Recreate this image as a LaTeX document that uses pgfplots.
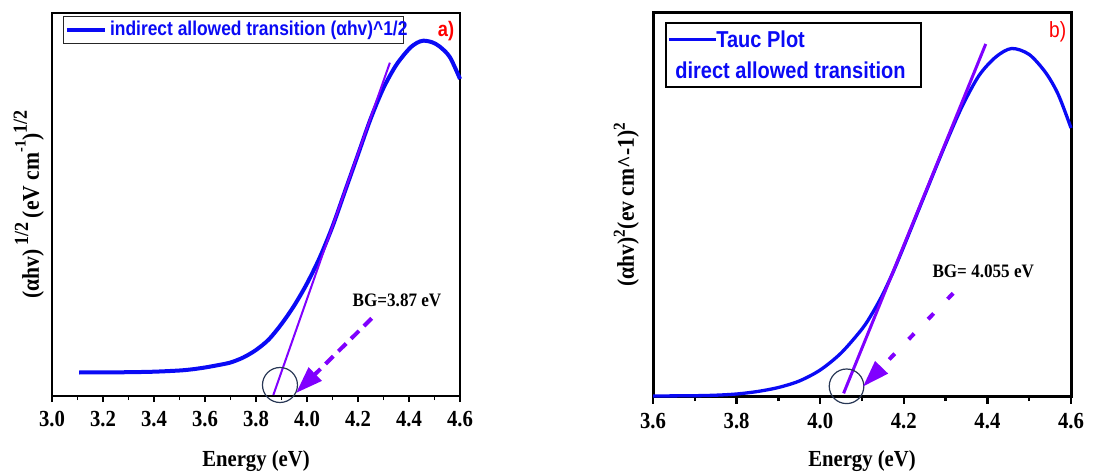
\documentclass[border=0pt]{standalone}
\usepackage{fontspec}
\setmainfont{Liberation Serif}[FakeStretch=0.9]
\newfontfamily\lsans{Liberation Sans}[FakeStretch=0.87]
\usepackage{pgfplots}
\pgfplotsset{compat=1.18}
\usetikzlibrary{arrows.meta}
\definecolor{cblue}{RGB}{10,10,245}
\definecolor{cpurple}{RGB}{128,0,255}
\definecolor{ccirc}{RGB}{40,55,85}

\pgfplotsset{tauc/.style={
  anchor=south west, scale only axis, height=383pt,
  ymin=0, ymax=383, ytick=\empty, clip=false,
  xtick pos=left, tick align=outside, minor x tick num=1,
  xticklabel style={font=\fontsize{23}{23}\selectfont\bfseries, yshift=-6pt,
    /pgf/number format/.cd, fixed, fixed zerofill, precision=1, assume math mode=true},
  xlabel={Energy (eV)},
  xlabel style={font=\fontsize{23}{23}\selectfont\bfseries, at={(axis description cs:0.5,0)},
    anchor=north, inner sep=0pt, yshift=-54pt},
  ylabel style={font=\fontsize{24}{24}\selectfont\bfseries, anchor=center},
}}

\begin{document}
\begin{tikzpicture}
\path[use as bounding box] (0pt,0pt) rectangle (1094pt,471pt);

% ---- a) indirect
\begin{axis}[tauc, at={(52pt,75pt)}, width=408pt,
  xmin=3.0, xmax=4.6, xtick={3.0,3.2,3.4,3.6,3.8,4.0,4.2,4.4,4.6},
  axis line style={line width=2pt},
  major tick length=6pt, minor tick length=4pt,
  every tick/.style={black, line width=1.5pt},
  ylabel={(αhv)\,\raisebox{0.45em}{\fontsize{20}{20}\selectfont 1/2}\,(eV cm\raisebox{0.55em}{\fontsize{16}{16}\selectfont -1})\raisebox{0.5em}{\fontsize{20}{20}\selectfont 1/2}},
  ylabel style={at={(axis description cs:-0.057,0.5)}},
]
\addplot[cblue, line width=4pt, smooth] coordinates {
 (3.106,23.5) (3.2,23.6) (3.3,23.8) (3.4,24.3) (3.5,25.5) (3.55,26.7)
 (3.6,28.5) (3.65,30.8) (3.7,33.5) (3.75,38.5) (3.8,46) (3.85,56.5)
 (3.9,72) (3.95,90.5) (4.0,112.5) (4.05,138.5) (4.1,169.5) (4.15,205.5)
 (4.2,241.5) (4.25,277.5) (4.3,308) (4.35,331) (4.4,347) (4.43,353)
 (4.456,355.3) (4.49,353.8) (4.52,349.5) (4.56,339) (4.6,317)
};
\addplot[cpurple, line width=2pt] coordinates {(3.868,1) (4.325,333.3)};
\draw[ccirc, line width=1.2pt] (axis cs:3.894,11) circle[radius=17.5pt];
\draw[cpurple, line width=4pt, dash pattern=on 11pt off 7pt,
  -{Triangle[length=27pt,width=18pt]}] (axis cs:4.254,77.7) -- (axis cs:3.957,3);
\node[font=\fontsize{19}{19}\selectfont\bfseries] at (axis cs:4.353,96) {BG=3.87 eV};
\draw[black!85, line width=1pt] (axis cs:3.047,352.7) rectangle (axis cs:4.380,379.3);
\draw[cblue, line width=4pt] (axis cs:3.058,366) -- (axis cs:3.208,366);
\node[anchor=west, inner sep=0pt, text=cblue, font=\lsans\bfseries\fontsize{20}{20}\selectfont]
  at (axis cs:3.227,366) {indirect allowed transition (αhv)\textasciicircum 1/2};
\node[text=red, font=\lsans\bfseries\fontsize{21}{21}\selectfont] at (axis cs:4.545,365) {a)};
\end{axis}

% ---- b) direct
\begin{axis}[tauc, at={(653pt,75pt)}, width=418pt,
  xmin=3.6, xmax=4.6, xtick={3.6,3.8,4.0,4.2,4.4,4.6},
  axis line style={line width=3pt},
  major tick length=7.5pt, minor tick length=5pt,
  every tick/.style={black, line width=2.5pt},
  ylabel={(αhv)\textsuperscript{2}(ev cm\textasciicircum-1)\textsuperscript{2}},
  ylabel style={at={(axis description cs:-0.064,0.5)}},
]
\addplot[cblue, line width=3.3pt, smooth] coordinates {
 (3.6,0) (3.7,0.3) (3.75,0.8) (3.8,2) (3.85,4.5) (3.9,8.5) (3.95,15)
 (4.0,26) (4.05,43) (4.1,67) (4.125,83) (4.15,102) (4.175,124.5)
 (4.2,149.5) (4.25,201) (4.3,252) (4.34,290) (4.38,320.5) (4.42,339)
 (4.458,347.5) (4.5,341.5) (4.54,323) (4.57,301) (4.6,268)
};
\addplot[cpurple, line width=3pt] coordinates {(4.056,2.7) (4.396,352)};
\draw[ccirc, line width=1.2pt] (axis cs:4.063,9.7) circle[radius=17.3pt];
\draw[cpurple, line width=4pt, dash pattern=on 8pt off 20pt,
  -{Triangle[length=27pt,width=17pt]}] (axis cs:4.318,102.7) -- (axis cs:4.102,9.3);
\node[font=\fontsize{19}{19}\selectfont\bfseries] at (axis cs:4.390,124.3) {BG= 4.055 eV};
\draw[black, line width=2pt] (axis cs:3.631,309.3) rectangle (axis cs:4.240,372.7);
\draw[cblue, line width=3.3pt] (axis cs:3.638,356.7) -- (axis cs:3.751,356.7);
\node[anchor=west, inner sep=0pt, text=cblue, font=\lsans\bfseries\fontsize{23}{23}\selectfont]
  at (axis cs:3.751,356.7) {Tauc Plot};
\node[anchor=west, inner sep=0pt, text=cblue, font=\lsans\bfseries\fontsize{23}{23}\selectfont]
  at (axis cs:3.653,325.3) {direct allowed transition};
\node[text=red, font=\lsans\fontsize{22}{22}\selectfont] at (axis cs:4.568,364.3) {b)};
\end{axis}
\end{tikzpicture}
\end{document}
